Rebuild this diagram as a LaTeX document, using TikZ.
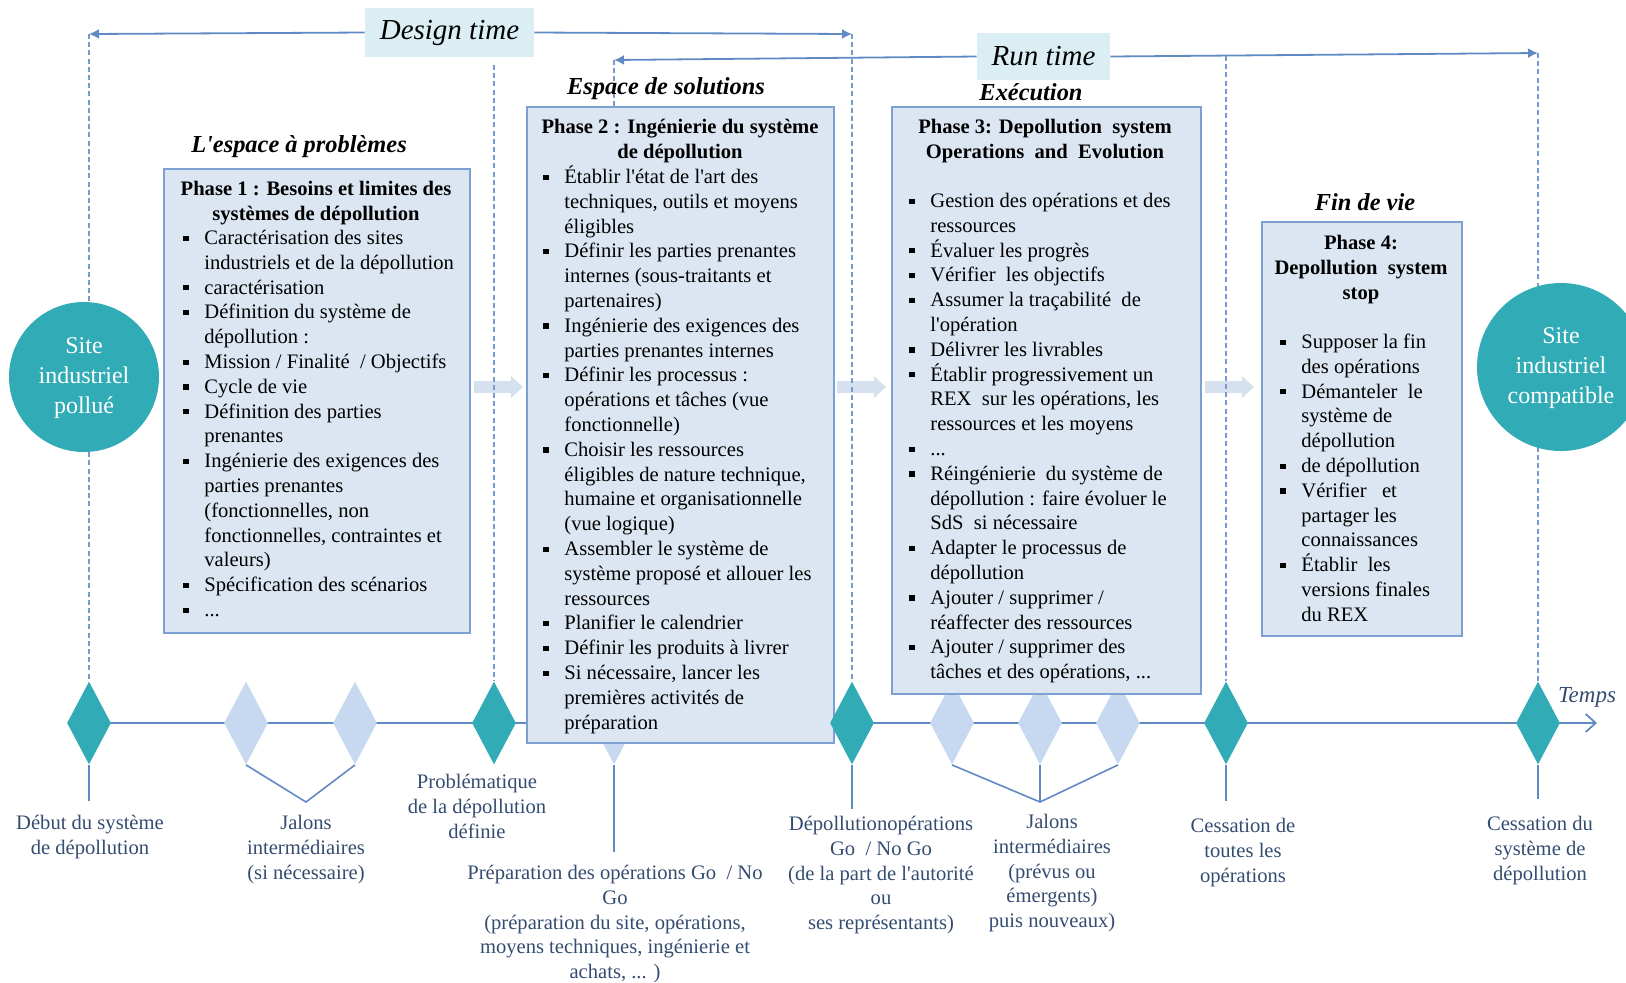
\documentclass[tikz,border=0pt]{standalone}
\usepackage{fontspec}
\setmainfont{Liberation Serif}
\usetikzlibrary{positioning,shapes.geometric,arrows.meta,backgrounds}

\newcommand{\bul}{\makebox[10.5pt][l]{\rule[1.8pt]{2.6pt}{2.6pt}}}
\newcommand{\ind}{\hspace*{10.5pt}}
\newcommand{\firstline}{\rule{0pt}{9pt}}
\newcommand{\apos}{\textquotesingle}

\begin{document}
\begin{tikzpicture}[
        x=0.5pt, y=-0.5pt,
        txt/.style={font=\fontsize{10.3}{12.4}\selectfont},
        milestone/.style={diamond,fill=tealc,minimum width=22pt,minimum height=41.5pt,inner sep=0pt},
        jalon/.style={milestone,fill=jalonc},
        phasebox/.style={draw=boxline,fill=boxfill,line width=0.9pt,anchor=north west,inner sep=0pt},
        phasetitle/.style={font=\fontsize{10.3}{12.4}\selectfont\bfseries,align=center,anchor=north,inner sep=0pt},
        phaselist/.style={txt,align=left,anchor=north west,inner sep=0pt},
        spacetitle/.style={font=\fontsize{12.2}{14}\selectfont\bfseries\itshape,inner sep=0pt},
        timebox/.style={fill=timefill,font=\fontsize{14.5}{16}\selectfont\itshape,inner sep=0pt},
        site/.style={circle,fill=tealc,text=white,align=center,inner sep=0pt,font=\fontsize{12}{15.2}\selectfont},
        milabel/.style={txt,text=labelc,align=center,anchor=north,inner sep=0pt},
        stem/.style={draw=lineblue,line width=0.8pt},
        guide/.style={draw=guidec,line width=0.6pt,dash pattern=on 2.5pt off 1.6pt},
        tarrow/.style={draw=lineblue,line width=0.9pt,-{Latex[length=5pt,width=5pt]}}
    ]
    \definecolor{tealc}{RGB}{49,172,182}
    \definecolor{jalonc}{RGB}{198,217,240}
    \definecolor{boxfill}{RGB}{220,230,242}
    \definecolor{boxline}{RGB}{124,160,210}
    \definecolor{lineblue}{RGB}{96,138,196}
    \definecolor{guidec}{RGB}{120,155,205}
    \definecolor{timefill}{RGB}{218,238,243}
    \definecolor{labelc}{RGB}{52,76,112}
    \definecolor{chevc}{RGB}{214,225,240}

    \clip (0,0) rectangle (1626,982);

    % time axis
    \coordinate (tStart) at (89,723);
    \coordinate (tEnd)   at (1597,723);
    \coordinate (dtL)    at (89,34);
    \coordinate (dtR)    at (852,34);
    \coordinate (rtL)    at (614,60);
    \coordinate (rtR)    at (1538,53);
    \coordinate (gProb)  at (494,65);
    \coordinate (gStop)  at (1226,56);
    \coordinate (jb1)    at (306,802);
    \coordinate (jb2)    at (1040,802);

    % light milestones (under the boxes)
    \node (j1)    [jalon] at (246,723)  {};
    \node (j2)    [jalon] at (355,723)  {};
    \node (jPrep) [jalon] at (614,723)  {};
    \node (j3)    [jalon] at (952,723)  {};
    \node (j4)    [jalon] at (1040,723) {};
    \node (j5)    [jalon] at (1118,723) {};

    % phase boxes
    \node (p1) [phasebox,minimum width=153pt,minimum height=232pt]   at (163,168)  {};
    \node (p2) [phasebox,minimum width=153.5pt,minimum height=318pt] at (526,106)  {};
    \node (p3) [phasebox,minimum width=154.5pt,minimum height=293.5pt] at (891,106) {};
    \node (p4) [phasebox,minimum width=100pt,minimum height=207pt]   at (1261,221) {};

    \node (tp1) [spacetitle] at (299,147)  {L\apos espace à problèmes};
    \node (tp2) [spacetitle] at (666,89)   {Espace de solutions};
    \node (tp3) [spacetitle] at (1031,92)  {Exécution};
    \node (tp4) [spacetitle] at (1365,202) {Fin de vie};

    \node (p1title) [phasetitle] at (316,177) {\firstline Phase 1 : Besoins et limites des\\systèmes de dépollution};
    \node (p1list) [phaselist] at (183,226) {%
        \firstline\bul Caractérisation des sites\\
        \ind industriels et de la dépollution\\
        \bul caractérisation\\
        \bul Définition du système de\\
        \ind dépollution :\\
        \bul Mission / Finalité~~/ Objectifs\\
        \bul Cycle de vie\\
        \bul Définition des parties\\
        \ind prenantes\\
        \bul Ingénierie des exigences des\\
        \ind parties prenantes\\
        \ind (fonctionnelles, non\\
        \ind fonctionnelles, contraintes et\\
        \ind valeurs)\\
        \bul Spécification des scénarios\\
        \bul ...};

    \node (p2title) [phasetitle] at (680,115.5) {\firstline Phase 2 : Ingénierie du système\\de dépollution};
    \node (p2list) [phaselist] at (543,165) {%
        \firstline\bul Établir l\apos état de l\apos art des\\
        \ind techniques, outils et moyens\\
        \ind éligibles\\
        \bul Définir les parties prenantes\\
        \ind internes (sous-traitants et\\
        \ind partenaires)\\
        \bul Ingénierie des exigences des\\
        \ind parties prenantes internes\\
        \bul Définir les processus :\\
        \ind opérations et tâches (vue\\
        \ind fonctionnelle)\\
        \bul Choisir les ressources\\
        \ind éligibles de nature technique,\\
        \ind humaine et organisationnelle\\
        \ind (vue logique)\\
        \bul Assembler le système de\\
        \ind système proposé et allouer les\\
        \ind ressources\\
        \bul Planifier le calendrier\\
        \bul Définir les produits à livrer\\
        \bul Si nécessaire, lancer les\\
        \ind premières activités de\\
        \ind préparation};

    \node (p3title) [phasetitle] at (1045,115.5) {\firstline Phase 3: Depollution~~system\\Operations~~and~~Evolution};
    \node (p3list) [phaselist] at (909,189) {%
        \firstline\bul Gestion des opérations et des\\
        \ind ressources\\
        \bul Évaluer les progrès\\
        \bul Vérifier~~les objectifs\\
        \bul Assumer la traçabilité~~de\\
        \ind l\apos opération\\
        \bul Délivrer les livrables\\
        \bul Établir progressivement un\\
        \ind REX~~sur les opérations, les\\
        \ind ressources et les moyens\\
        \bul ...\\
        \bul Réingénierie~~du système de\\
        \ind dépollution : faire évoluer le\\
        \ind SdS~~si nécessaire\\
        \bul Adapter le processus de\\
        \ind dépollution\\
        \bul Ajouter / supprimer /\\
        \ind réaffecter des ressources\\
        \bul Ajouter / supprimer des\\
        \ind tâches et des opérations, ...};

    \node (p4title) [phasetitle] at (1361,231) {\firstline Phase 4:\\Depollution~~system\\stop};
    \node (p4list) [phaselist] at (1280,330) {%
        \firstline\bul Supposer la fin\\
        \ind des opérations\\
        \bul Démanteler~~le\\
        \ind système de\\
        \ind dépollution\\
        \bul de dépollution\\
        \bul Vérifier~~~et\\
        \ind partager les\\
        \ind connaissances\\
        \bul Établir~~les\\
        \ind versions finales\\
        \ind du REX};

    % key milestones
    \node (dStart) [milestone] at (89,723)   {};
    \node (dProb)  [milestone] at (494,723)  {};
    \node (dGo)    [milestone] at (852,723)  {};
    \node (dStop)  [milestone] at (1226,723) {};
    \node (dEnd)   [milestone] at (1538,723) {};

    \node (siteA) [site,minimum size=75pt] at (84,377)   {\firstline Site\\industriel\\pollué};
    \node (siteB) [site,minimum size=84pt] at (1561,367) {\firstline Site\\industriel\\compatible};

    % design / run time
    \node (dtime) [timebox,minimum width=84.5pt,minimum height=24.5pt] at (449.5,32.5) {Design time};
    \node (rtime) [timebox,minimum width=66.5pt,minimum height=23.5pt] at (1043.5,56.5) {Run time};
    \draw [tarrow] (dtime.west) -- (dtL);
    \draw [tarrow] (dtime.east) -- (dtR);
    \draw [tarrow] (rtime.west) -- (rtL);
    \draw [tarrow] (rtime.east) -- (rtR);

    % milestone labels
    \node (lStart) [milabel] at (90,811)   {\firstline Début du système\\de dépollution};
    \node (lJal1)  [milabel] at (306,811)  {\firstline Jalons\\intermédiaires\\(si nécessaire)};
    \node (lProb)  [milabel] at (477,770)  {\firstline Problématique\\de la dépollution\\définie};
    \node (lPrep)  [milabel] at (615,861)  {\firstline Préparation des opérations Go~~/ No\\Go\\(préparation du site, opérations,\\moyens techniques, ingénierie et\\achats, ... )};
    \node (lGo)    [milabel] at (881,812)  {\firstline Dépollutionopérations\\Go~~/ No Go\\(de la part de l\apos autorité\\ou\\ses représentants)};
    \node (lJal2)  [milabel] at (1052,810) {\firstline Jalons\\intermédiaires\\(prévus ou\\émergents)\\puis nouveaux)};
    \node (lStop)  [milabel] at (1243,814) {\firstline Cessation de\\toutes les\\opérations};
    \node (lEnd)   [milabel] at (1540,812) {\firstline Cessation du\\système de\\dépollution};
    \node (temps)  [txt,font=\fontsize{11.5}{13}\selectfont\itshape,text=labelc] at (1587,697) {Temps};

    \draw [stem,shorten >=5pt]   (dStart.south) -- (dStart.south |- lStart.north);
    \draw [stem,shorten >=4.5pt] (jPrep.south)  -- (jPrep.south |- lPrep.north);
    \draw [stem,shorten >=1.5pt] (dGo.south)    -- (dGo.south |- lGo.north);
    \draw [stem,shorten >=6.5pt] (dStop.south)  -- (dStop.south |- lStop.north);
    \draw [stem,shorten >=6.5pt] (dEnd.south)   -- (dEnd.south |- lEnd.north);
    \draw [stem] (j1.south) -- (jb1) -- (j2.south);
    \draw [stem] (j3.south) -- (jb2) -- (j5.south);
    \draw [stem] (j4.south) -- (jb2);

    \begin{pgfonlayer}{background}
        \foreach \x in {474,837,1205}
            \fill [chevc] (\x,381) -- ({\x+37},381) -- ({\x+37},376) -- ({\x+49},387)
                -- ({\x+37},398) -- ({\x+37},393) -- (\x,393) -- cycle;
        \draw [guide] (dtL)   -- (dStart.north);
        \draw [guide] (gProb) -- (dProb.north);
        \draw [guide] (rtL)   -- (rtL |- p2.north);
        \draw [guide] (dtR)   -- (dGo.north);
        \draw [guide] (gStop) -- (dStop.north);
        \draw [guide] (rtR)   -- (dEnd.north);
        \draw [stem,line width=0.9pt,-{Straight Barb[length=5pt,width=9pt]}] (tStart) -- (tEnd);
    \end{pgfonlayer}
\end{tikzpicture}
\end{document}
